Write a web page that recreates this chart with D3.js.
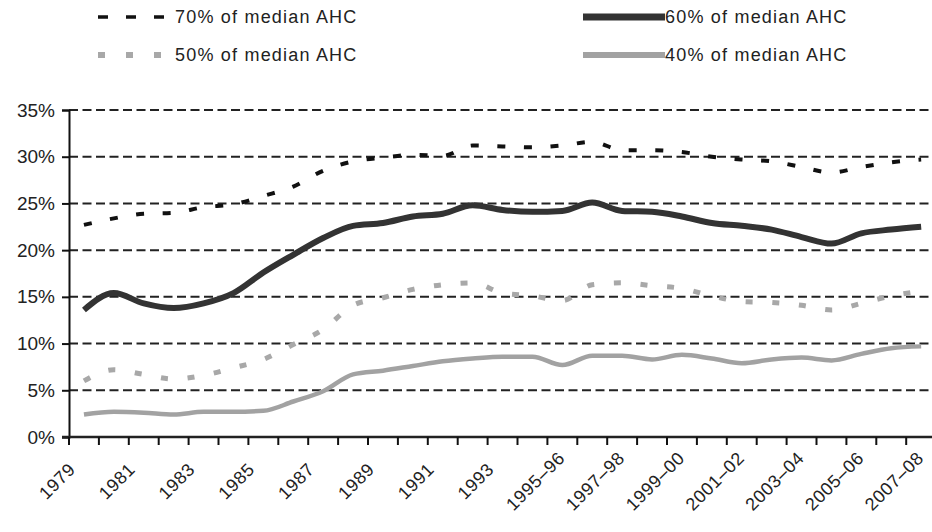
<!DOCTYPE html>
<html>
<head>
<meta charset="utf-8">
<script src="https://cdn.jsdelivr.net/npm/d3@7"></script>
<style>
  html, body { margin: 0; padding: 0; background: #fff; }
  svg { display: block; }
  text { font-family: "Liberation Sans", Arial, sans-serif; fill: #222; }
</style>
</head>
<body>
<svg id="chart" width="932" height="532"></svg>
<script>
const categories = ["1979","1980","1981","1982","1983","1984","1985","1986","1987","1988","1989","1990","1991","1992","1993","1994–95","1995–96","1996–97","1997–98","1998–99","1999–00","2000–01","2001–02","2002–03","2003–04","2004–05","2005–06","2006–07","2007–08"];
const labelCategories = ["1979","1981","1983","1985","1987","1989","1991","1993","1995–96","1997–98","1999–00","2001–02","2003–04","2005–06","2007–08"];
const seriesNames = ["70% of median AHC","60% of median AHC","50% of median AHC","40% of median AHC"];
const median70 = [22.7,23.4,23.9,24.0,24.6,24.9,25.8,26.8,28.5,29.5,29.9,30.2,30.1,31.2,31.1,31.0,31.2,31.6,30.7,30.7,30.5,30.0,29.7,29.5,28.9,28.3,28.9,29.4,29.7];
const median60 = [13.6,15.4,14.3,13.8,14.3,15.4,17.6,19.5,21.3,22.6,22.9,23.6,23.9,24.8,24.3,24.1,24.2,25.1,24.2,24.1,23.6,22.9,22.6,22.2,21.4,20.7,21.8,22.2,22.5];
const median50 = [6.0,7.2,6.7,6.2,6.6,7.4,8.3,9.9,11.5,14.1,14.9,15.8,16.3,16.5,15.4,15.1,14.6,16.3,16.5,16.2,15.9,15.1,14.5,14.4,14.1,13.6,14.3,15.1,15.6];
const median40 = [2.4,2.7,2.6,2.4,2.7,2.7,2.8,3.8,4.9,6.7,7.1,7.6,8.1,8.4,8.6,8.6,7.7,8.7,8.7,8.3,8.8,8.4,7.9,8.3,8.5,8.2,8.9,9.5,9.7];
const yTicks = [0,5,10,15,20,25,30,35];

const svg = d3.select("#chart");
const plotLeft = 69, plotTop = 110, plotBottom = 437, band = 29.9;

const x = d3.scaleBand().domain(categories).range([plotLeft, plotLeft + band * categories.length]).paddingInner(0).paddingOuter(0);
const y = d3.scaleLinear().domain([0, 35]).range([plotBottom, plotTop]);
const cx = c => x(c) + x.bandwidth() / 2;

// gridlines
svg.append("g").selectAll("line").data(yTicks.filter(d => d > 0)).join("line")
  .attr("x1", plotLeft).attr("x2", 932)
  .attr("y1", d => y(d)).attr("y2", d => y(d))
  .attr("stroke", "#222").attr("stroke-width", 2).attr("stroke-dasharray", "9,4.5");

// y axis
const yAxis = d3.axisLeft(y).tickValues(yTicks).tickSize(7).tickFormat(d => d + "%");
const gy = svg.append("g").attr("transform", `translate(${plotLeft},0)`).call(yAxis);
gy.select(".domain").attr("stroke", "#111").attr("stroke-width", 2);
gy.selectAll(".tick line").attr("stroke", "#111").attr("stroke-width", 2);
gy.selectAll(".tick text").attr("x", -14).style("font-size", "19px")
  .style("font-family", "'Liberation Sans',Arial,sans-serif").attr("fill", "#222");

// lines
const line = d3.line().x((d, i) => cx(categories[i])).y(d => y(d)).curve(d3.curveMonotoneX);
svg.append("path").datum(median40).attr("d", line).attr("fill", "none")
  .attr("stroke", "#a2a2a2").attr("stroke-width", 4.5).attr("stroke-linejoin", "round");
svg.append("path").datum(median50).attr("d", line).attr("fill", "none")
  .attr("stroke", "#a8a8a8").attr("stroke-width", 5).attr("stroke-dasharray", "7,19.7");
svg.append("path").datum(median60).attr("d", line).attr("fill", "none")
  .attr("stroke", "#333").attr("stroke-width", 6).attr("stroke-linejoin", "round");
svg.append("path").datum(median70).attr("d", line).attr("fill", "none")
  .attr("stroke", "#111").attr("stroke-width", 4).attr("stroke-dasharray", "8,18.6");

// x axis
const gx = svg.append("g");
gx.append("line").attr("x1", plotLeft - 7).attr("x2", 932).attr("y1", plotBottom).attr("y2", plotBottom)
  .attr("stroke", "#222").attr("stroke-width", 2.5);
const boundaries = categories.map(c => x(c));
gx.selectAll("line.tk").data(boundaries).join("line").attr("class", "tk")
  .attr("x1", d => d).attr("x2", d => d).attr("y1", plotBottom).attr("y2", plotBottom + 8)
  .attr("stroke", "#111").attr("stroke-width", 2);
gx.selectAll("text").data(labelCategories).join("text")
  .attr("transform", d => `translate(${cx(d) - 27},${plotBottom + 44}) rotate(-45)`)
  .attr("text-anchor", "middle")
  .attr("dy", "0.35em")
  .style("font-size", "18px")
  .style("letter-spacing", "0.6px")
  .text(d => d);

// legend
const lg = svg.append("g");
const legendItems = [
  {name: seriesNames[0], x: 98, y: 17, stroke: "#111", w: 3.5, dash: "10,18", sw: 67},
  {name: seriesNames[1], x: 583, y: 17, stroke: "#333", w: 7, dash: null, sw: 82},
  {name: seriesNames[2], x: 98, y: 55, stroke: "#a8a8a8", w: 6, dash: "7,21", sw: 67},
  {name: seriesNames[3], x: 583, y: 55, stroke: "#a2a2a2", w: 6, dash: null, sw: 82}
];
legendItems.forEach(it => {
  lg.append("line").attr("x1", it.x).attr("x2", it.x + it.sw).attr("y1", it.y).attr("y2", it.y)
    .attr("stroke", it.stroke).attr("stroke-width", it.w)
    .attr("stroke-dasharray", it.dash);
  lg.append("text").attr("x", it.sw > 70 ? it.x + it.sw : it.x + it.sw + 10).attr("y", it.y + 6)
    .style("font-size", "18px").style("letter-spacing", "1.2px").text(it.name);
});
</script>
</body>
</html>
